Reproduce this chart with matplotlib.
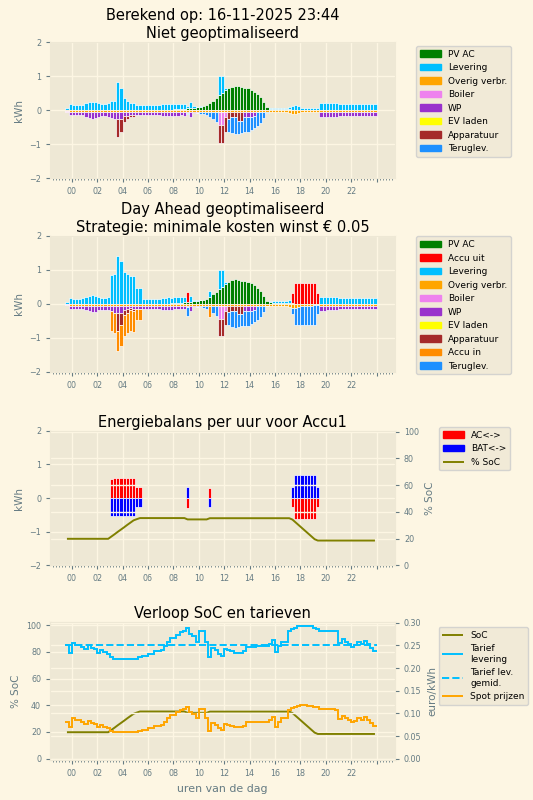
import matplotlib
matplotlib.use("Agg")
import matplotlib.pyplot as plt
import numpy as np
from matplotlib.lines import Line2D
from matplotlib.patches import Patch
from matplotlib.ticker import MultipleLocator

plt.style.use("Solarize_Light2")
plt.rcParams["font.family"] = ["DejaVu Sans"]

# 98 kwartieren: 23:30 en 23:45 van de vorige dag, daarna 00:00 .. 23:45
kwartieren = np.arange(98) * 0.25 - 0.5
uur_ticks = list(range(0, 25, 2))
uur_labels = ["00", "02", "04", "06", "08", "10", "12", "14", "16", "18", "20", "22", ""]

# ---- niet geoptimaliseerd (kWh per kwartier) ----
pv_ac = [0, 0,
         0, 0, 0, 0, 0, 0, 0, 0, 0, 0, 0, 0, 0, 0, 0, 0,  # 00-03
         0, 0, 0, 0, 0, 0, 0, 0, 0, 0, 0, 0, 0, 0, 0, 0.01,  # 04-07
         0.02, 0.02, 0.03, 0.04, 0.05, 0.06, 0.07, 0.08, 0.10, 0.12, 0.15, 0.20, 0.27, 0.35, 0.43, 0.50,  # 08-11
         0.58, 0.64, 0.69, 0.72, 0.70, 0.67, 0.66, 0.65, 0.60, 0.54, 0.47, 0.38, 0.24, 0.08, 0.04, 0.03,  # 12-15
         0.03, 0.03, 0.02, 0.02, 0.02, 0.01, 0, 0, 0, 0, 0, 0, 0, 0, 0, 0,  # 16-19
         0, 0, 0, 0, 0, 0, 0, 0, 0, 0, 0, 0, 0, 0, 0, 0]  # 20-23
levering = [0.06, 0.18,
            0.15, 0.15, 0.15, 0.16, 0.20, 0.23, 0.25, 0.24, 0.20, 0.18, 0.18, 0.20, 0.26, 0.27, 0.81, 0.65,
            0.34, 0.26, 0.20, 0.22, 0.15, 0.15, 0.15, 0.15, 0.15, 0.15, 0.15, 0.15, 0.18, 0.18, 0.19, 0.17,
            0.17, 0.17, 0.16, 0.15, 0.06, 0.17, 0.04, 0.02, 0.01, 0, 0, 0, 0, 0, 0.57, 0.50,
            0.06, 0, 0, 0, 0, 0, 0, 0, 0, 0, 0, 0, 0, 0, 0.03, 0.04,
            0.04, 0.04, 0.05, 0.05, 0.08, 0.11, 0.14, 0.11, 0.07, 0.07, 0.06, 0.06, 0.05, 0.05, 0.21, 0.21,
            0.20, 0.20, 0.20, 0.20, 0.17, 0.17, 0.17, 0.17, 0.17, 0.17, 0.17, 0.17, 0.17, 0.17, 0.17, 0.17]
overig = [-0.02, -0.07,
          -0.07, -0.07, -0.07, -0.07, -0.07, -0.07, -0.07, -0.07, -0.07, -0.07, -0.07, -0.07, -0.07, -0.07, -0.07, -0.07,
          -0.07, -0.07, -0.07, -0.07, -0.07, -0.07, -0.07, -0.07, -0.07, -0.07, -0.07, -0.07, -0.07, -0.07, -0.07, -0.07,
          -0.07, -0.07, -0.07, -0.07, -0.07, -0.07, -0.07, -0.07, -0.07, -0.07, -0.07, -0.07, -0.07, -0.07, -0.07, -0.07,
          -0.07, -0.07, -0.07, -0.07, -0.07, -0.07, -0.07, -0.07, -0.07, -0.07, -0.07, -0.07, -0.07, -0.07, -0.07, -0.07,
          -0.07, -0.07, -0.07, -0.07, -0.10, -0.12, -0.13, -0.10, -0.07, -0.07, -0.07, -0.07, -0.05, -0.05, -0.07, -0.07,
          -0.07, -0.07, -0.07, -0.07, -0.07, -0.07, -0.07, -0.07, -0.07, -0.07, -0.07, -0.07, -0.07, -0.07, -0.07, -0.07]
boiler = [-0.03, 0,
          0, 0, 0, 0, 0, 0, 0, 0, 0, 0, 0, 0, 0, 0, 0, 0,
          0, 0, 0, 0, 0, 0, 0, 0, 0, 0, 0, 0, 0, 0, 0, 0,
          0, 0, 0, 0, 0, 0, 0, 0, 0, 0, 0, 0, 0, 0, -0.37, -0.37,
          -0.15, 0, 0, 0, 0, 0, 0, 0, 0, 0, 0, 0, 0, 0, 0, 0,
          0, 0, 0, 0, 0, 0, 0, 0, 0, 0, 0, 0, 0, 0, 0, 0,
          0, 0, 0, 0, 0, 0, 0, 0, 0, 0, 0, 0, 0, 0, 0, 0]
wp = [0, -0.08,
      -0.08, -0.08, -0.08, -0.09, -0.13, -0.16, -0.18, -0.17, -0.13, -0.11, -0.11, -0.13, -0.16, -0.19, -0.19, -0.19,
      -0.12, -0.10, -0.07, -0.08, -0.08, -0.08, -0.08, -0.08, -0.08, -0.08, -0.08, -0.08, -0.11, -0.11, -0.12, -0.11,
      -0.10, -0.10, -0.09, -0.10, -0.02, -0.15, -0.03, -0.02, 0, 0, 0, 0, 0, 0, 0, 0,
      0, 0, 0, 0, 0, 0, -0.14, -0.14, -0.14, -0.12, 0, 0, 0, 0, 0, 0,
      0, 0, 0, 0, 0, 0, 0, 0, 0, 0, 0, 0, 0, 0, -0.14, -0.14,
      -0.13, -0.13, -0.13, -0.13, -0.10, -0.10, -0.10, -0.10, -0.10, -0.10, -0.10, -0.10, -0.10, -0.10, -0.10, -0.10]
ev_laden = [0] * 98
apparatuur = [0, 0,
              0, 0, 0, 0, 0, 0, 0, 0, 0, 0, 0, 0, 0, 0, -0.53, -0.38,
              -0.15, -0.09, -0.06, -0.07, 0, 0, 0, 0, 0, 0, 0, 0, 0, 0, 0, 0,
              0, 0, 0, 0, 0, 0, 0, 0, 0, 0, 0, 0, 0, 0, -0.52, -0.52,
              -0.42, -0.18, -0.15, -0.15, -0.24, -0.24, 0, 0, 0, 0, 0, 0, 0, 0, 0, 0,
              0, 0, 0, 0, 0, 0, 0, 0, 0, 0, 0, 0, 0, 0, 0, 0,
              0, 0, 0, 0, 0, 0, 0, 0, 0, 0, 0, 0, 0, 0, 0, 0]
teruglevering = [0, 0,
                 0, 0, 0, 0, 0, 0, 0, 0, 0, 0, 0, 0, 0, 0, 0, 0,
                 0, 0, 0, 0, 0, 0, 0, 0, 0, 0, 0, 0, 0, 0, 0, 0,
                 0, 0, 0, 0, -0.02, 0, 0, -0.01, -0.04, -0.05, -0.08, -0.13, -0.20, -0.28, 0, 0,
                 0, -0.39, -0.47, -0.50, -0.39, -0.36, -0.45, -0.44, -0.39, -0.35, -0.40, -0.31, -0.17, -0.01, 0, 0,
                 0, 0, 0, 0, 0, 0, 0, 0, 0, 0, 0, 0, 0, 0, 0, 0,
                 0, 0, 0, 0, 0, 0, 0, 0, 0, 0, 0, 0, 0, 0, 0, 0]

# ---- day ahead geoptimaliseerd ----
levering_opt = [0.06, 0.18,
                0.15, 0.15, 0.15, 0.16, 0.20, 0.23, 0.25, 0.24, 0.20, 0.18, 0.18, 0.20, 0.83, 0.87, 1.40, 1.25,
                0.93, 0.87, 0.80, 0.82, 0.47, 0.47, 0.15, 0.15, 0.15, 0.15, 0.15, 0.15, 0.18, 0.18, 0.19, 0.17,
                0.17, 0.17, 0.16, 0.15, 0, 0.17, 0.04, 0.02, 0.01, 0, 0, 0.18, 0, 0, 0.57, 0.50,
                0.06, 0, 0, 0, 0, 0, 0, 0, 0, 0, 0, 0, 0, 0, 0.03, 0.04,
                0.04, 0.04, 0.05, 0.05, 0.08, 0, 0, 0, 0, 0, 0, 0, 0, 0, 0.21, 0.21,
                0.20, 0.20, 0.20, 0.20, 0.17, 0.17, 0.17, 0.17, 0.17, 0.17, 0.17, 0.17, 0.17, 0.17, 0.17, 0.17]
accu_uit = [0, 0,
            0, 0, 0, 0, 0, 0, 0, 0, 0, 0, 0, 0, 0, 0, 0, 0,
            0, 0, 0, 0, 0, 0, 0, 0, 0, 0, 0, 0, 0, 0, 0, 0,
            0, 0, 0, 0, 0.30, 0, 0, 0, 0, 0, 0, 0, 0, 0, 0, 0,
            0, 0, 0, 0, 0, 0, 0, 0, 0, 0, 0, 0, 0, 0, 0, 0,
            0, 0, 0, 0, 0, 0.30, 0.62, 0.62, 0.62, 0.62, 0.62, 0.62, 0.62, 0.30, 0, 0,
            0, 0, 0, 0, 0, 0, 0, 0, 0, 0, 0, 0, 0, 0, 0, 0]
accu_in = [0, 0,
           0, 0, 0, 0, 0, 0, 0, 0, 0, 0, 0, 0, -0.57, -0.60, -0.60, -0.60,
           -0.60, -0.60, -0.60, -0.60, -0.32, -0.32, 0, 0, 0, 0, 0, 0, 0, 0, 0, 0,
           0, 0, 0, 0, 0, 0, 0, 0, 0, 0, 0, -0.31, 0, 0, 0, 0,
           0, 0, 0, 0, 0, 0, 0, 0, 0, 0, 0, 0, 0, 0, 0, 0,
           0, 0, 0, 0, 0, 0, 0, 0, 0, 0, 0, 0, 0, 0, 0, 0,
           0, 0, 0, 0, 0, 0, 0, 0, 0, 0, 0, 0, 0, 0, 0, 0]
teruglevering_opt = [0, 0,
                     0, 0, 0, 0, 0, 0, 0, 0, 0, 0, 0, 0, 0, 0, 0, 0,
                     0, 0, 0, 0, 0, 0, 0, 0, 0, 0, 0, 0, 0, 0, 0, 0,
                     0, 0, 0, 0, -0.26, 0, 0, -0.01, -0.04, -0.05, -0.08, 0, -0.20, -0.28, 0, 0,
                     0, -0.39, -0.47, -0.50, -0.39, -0.36, -0.45, -0.44, -0.39, -0.35, -0.40, -0.31, -0.17, -0.01, 0, 0,
                     0, 0, 0, 0, 0, -0.19, -0.49, -0.52, -0.55, -0.55, -0.55, -0.55, -0.57, -0.25, 0, 0,
                     0, 0, 0, 0, 0, 0, 0, 0, 0, 0, 0, 0, 0, 0, 0, 0]

# ---- accu1 ----
ac_accu = [0, 0,
           0, 0, 0, 0, 0, 0, 0, 0, 0, 0, 0, 0, 0.57, 0.60, 0.60, 0.60,
           0.60, 0.60, 0.60, 0.60, 0.32, 0.32, 0, 0, 0, 0, 0, 0, 0, 0, 0, 0,
           0, 0, 0, 0, -0.30, 0, 0, 0, 0, 0, 0, 0.30, 0, 0, 0, 0,
           0, 0, 0, 0, 0, 0, 0, 0, 0, 0, 0, 0, 0, 0, 0, 0,
           0, 0, 0, 0, 0, -0.28, -0.63, -0.63, -0.63, -0.63, -0.63, -0.63, -0.63, -0.28, 0, 0,
           0, 0, 0, 0, 0, 0, 0, 0, 0, 0, 0, 0, 0, 0, 0, 0]
bat_accu = [0, 0,
            0, 0, 0, 0, 0, 0, 0, 0, 0, 0, 0, 0, -0.52, -0.54, -0.54, -0.54,
            -0.54, -0.54, -0.54, -0.54, -0.26, -0.26, 0, 0, 0, 0, 0, 0, 0, 0, 0, 0,
            0, 0, 0, 0, 0.34, 0, 0, 0, 0, 0, 0, -0.26, 0, 0, 0, 0,
            0, 0, 0, 0, 0, 0, 0, 0, 0, 0, 0, 0, 0, 0, 0, 0,
            0, 0, 0, 0, 0, 0.34, 0.69, 0.69, 0.69, 0.69, 0.69, 0.69, 0.69, 0.34, 0, 0,
            0, 0, 0, 0, 0, 0, 0, 0, 0, 0, 0, 0, 0, 0, 0, 0]
soc = [19.8, 19.8,
       19.8, 19.8, 19.8, 19.8, 19.8, 19.8, 19.8, 19.8, 19.8, 19.8, 19.8, 19.8, 21.5, 23.2, 25.0, 26.7,
       28.4, 30.2, 31.9, 33.6, 34.5, 35.3, 35.3, 35.3, 35.3, 35.3, 35.3, 35.3, 35.3, 35.3, 35.3, 35.3,
       35.3, 35.3, 35.3, 35.3, 34.3, 34.3, 34.3, 34.3, 34.3, 34.3, 34.3, 35.2, 35.2, 35.2, 35.2, 35.2,
       35.2, 35.2, 35.2, 35.2, 35.2, 35.2, 35.2, 35.2, 35.2, 35.2, 35.2, 35.2, 35.2, 35.2, 35.2, 35.2,
       35.2, 35.2, 35.2, 35.2, 35.2, 34.2, 32.1, 30.0, 27.9, 25.8, 23.7, 21.6, 19.5, 18.5, 18.5, 18.5,
       18.5, 18.5, 18.5, 18.5, 18.5, 18.5, 18.5, 18.5, 18.5, 18.5, 18.5, 18.5, 18.5, 18.5, 18.5, 18.5]

# ---- tarieven (euro/kWh) ----
tarief_levering = [0.250, 0.234,
                   0.256, 0.251, 0.251, 0.247, 0.243, 0.250, 0.244, 0.243, 0.234, 0.241, 0.236, 0.231, 0.225, 0.221, 0.221, 0.221,
                   0.221, 0.221, 0.221, 0.220, 0.220, 0.225, 0.227, 0.227, 0.231, 0.231, 0.237, 0.237, 0.241, 0.249, 0.258, 0.267,
                   0.267, 0.274, 0.280, 0.282, 0.288, 0.276, 0.270, 0.258, 0.283, 0.282, 0.258, 0.225, 0.244, 0.241, 0.231, 0.227,
                   0.243, 0.241, 0.237, 0.234, 0.234, 0.234, 0.237, 0.247, 0.247, 0.247, 0.249, 0.249, 0.249, 0.249, 0.254, 0.263,
                   0.236, 0.249, 0.258, 0.258, 0.281, 0.286, 0.288, 0.292, 0.294, 0.294, 0.292, 0.292, 0.289, 0.287, 0.283, 0.283,
                   0.282, 0.282, 0.282, 0.281, 0.255, 0.265, 0.258, 0.254, 0.247, 0.252, 0.258, 0.254, 0.261, 0.254, 0.244, 0.237]
tarief_gemiddeld = 0.25
spot_prijs = [0.081, 0.071,
              0.089, 0.086, 0.086, 0.082, 0.077, 0.084, 0.078, 0.077, 0.069, 0.075, 0.071, 0.067, 0.062, 0.059, 0.059, 0.059,
              0.059, 0.059, 0.059, 0.058, 0.058, 0.062, 0.064, 0.064, 0.067, 0.067, 0.072, 0.072, 0.075, 0.082, 0.089, 0.097,
              0.097, 0.103, 0.108, 0.109, 0.114, 0.104, 0.099, 0.089, 0.110, 0.109, 0.089, 0.062, 0.078, 0.075, 0.067, 0.064,
              0.077, 0.075, 0.072, 0.069, 0.069, 0.069, 0.072, 0.080, 0.080, 0.080, 0.082, 0.082, 0.082, 0.082, 0.086, 0.093,
              0.071, 0.082, 0.089, 0.089, 0.108, 0.112, 0.114, 0.117, 0.119, 0.119, 0.117, 0.117, 0.115, 0.113, 0.110, 0.110,
              0.109, 0.109, 0.109, 0.108, 0.087, 0.095, 0.089, 0.086, 0.080, 0.084, 0.089, 0.086, 0.092, 0.086, 0.078, 0.072]

TXT = "#657b83"
C_PV, C_LEV, C_OV, C_BOIL = "green", "deepskyblue", "orange", "violet"
C_WP, C_EV, C_APP, C_TL = "darkorchid", "yellow", "brown", "dodgerblue"
C_UIT, C_IN = "red", "darkorange"


def opmaak(ax, ylabel):
    ax.set_xlim(-1.7, 25.45)
    ax.set_xticks(uur_ticks)
    ax.set_xticklabels(uur_labels)
    ax.xaxis.set_minor_locator(MultipleLocator(0.25))
    ax.tick_params(axis="x", which="minor", length=1.5, width=0.6, color=TXT)
    ax.tick_params(which="major", labelsize=5.8, colors=TXT, length=3)
    ax.grid(which="minor", visible=False)
    ax.set_axisbelow(True)
    ax.set_ylabel(ylabel, fontsize=7.5, color=TXT)


def stapel(ax, reeksen):
    pos = np.zeros(len(kwartieren))
    neg = np.zeros(len(kwartieren))
    for waarden, kleur in reeksen:
        w = np.array(waarden, dtype=float)
        onder = np.where(w >= 0, pos, neg)
        m = w != 0
        ax.bar(kwartieren[m], w[m], width=0.25, bottom=onder[m], align="edge",
               color=kleur, edgecolor="white", linewidth=0.5)
        pos += np.clip(w, 0, None)
        neg += np.clip(w, None, 0)
    ax.set_ylim(-2, 2)
    ax.set_yticks([-2, -1, 0, 1, 2])


def legenda(ax, handles, x, y):
    ax.legend(handles=handles, loc="upper left", bbox_to_anchor=(x, y),
              bbox_transform=fig.transFigure, borderaxespad=0, fontsize=6.5,
              handlelength=2.3, labelcolor="black")


fig = plt.figure(figsize=(5.33, 8), dpi=100)
L, W = 0.094, 0.647

# 1: niet geoptimaliseerd
ax1 = fig.add_axes([L, 0.7775, W, 0.170])
stapel(ax1, [(pv_ac, C_PV), (levering, C_LEV), (overig, C_OV), (boiler, C_BOIL),
             (wp, C_WP), (ev_laden, C_EV), (apparatuur, C_APP), (teruglevering, C_TL)])
opmaak(ax1, "kWh")
ax1.set_title("Berekend op: 16-11-2025 23:44\nNiet geoptimaliseerd", fontsize=10.5, color="black", pad=3)
legenda(ax1, [Patch(color=c, label=l) for c, l in [
    (C_PV, "PV AC"), (C_LEV, "Levering"), (C_OV, "Overig verbr."), (C_BOIL, "Boiler"),
    (C_WP, "WP"), (C_EV, "EV laden"), (C_APP, "Apparatuur"), (C_TL, "Teruglev.")]], 0.781, 0.9425)

# 2: day ahead geoptimaliseerd
ax2 = fig.add_axes([L, 0.5354, W, 0.170])
stapel(ax2, [(pv_ac, C_PV), (accu_uit, C_UIT), (levering_opt, C_LEV), (overig, C_OV),
             (boiler, C_BOIL), (wp, C_WP), (ev_laden, C_EV), (apparatuur, C_APP),
             (accu_in, C_IN), (teruglevering_opt, C_TL)])
opmaak(ax2, "kWh")
ax2.set_title("Day Ahead geoptimaliseerd\nStrategie: minimale kosten winst € 0.05", fontsize=10.5, color="black", pad=3)
legenda(ax2, [Patch(color=c, label=l) for c, l in [
    (C_PV, "PV AC"), (C_UIT, "Accu uit"), (C_LEV, "Levering"), (C_OV, "Overig verbr."),
    (C_BOIL, "Boiler"), (C_WP, "WP"), (C_EV, "EV laden"), (C_APP, "Apparatuur"),
    (C_IN, "Accu in"), (C_TL, "Teruglev.")]], 0.781, 0.7045)

# 3: energiebalans accu
ax3 = fig.add_axes([L, 0.2934, W, 0.168])
ac = np.array(ac_accu)
bat = np.array(bat_accu)
m = ac != 0
ax3.bar(kwartieren[m], ac[m], width=0.25, align="edge", color="red", edgecolor="white", linewidth=0.5)
m = bat != 0
ax3.bar(kwartieren[m], bat[m], width=0.25, align="edge", color="blue", edgecolor="white", linewidth=0.5)
ax3.set_ylim(-2, 2)
ax3.set_yticks([-2, -1, 0, 1, 2])
opmaak(ax3, "kWh")
ax3.set_title("Energiebalans per uur voor Accu1", fontsize=10.5, color="black", pad=3)
ax3b = ax3.twinx()
ax3b.plot(kwartieren + 0.125, soc, color="olive", linewidth=1.4)
ax3b.set_ylim(0, 100.5)
ax3b.set_yticks(range(0, 101, 20))
ax3b.tick_params(labelsize=5.8, colors=TXT, length=3)
ax3b.set_ylabel("% SoC", fontsize=7.5, color=TXT)
legenda(ax3, [Patch(color="red", label="AC<->"), Patch(color="blue", label="BAT<->"),
              Line2D([], [], color="olive", linewidth=1.4, label="% SoC")], 0.824, 0.466)

# 4: SoC en tarieven
ax4 = fig.add_axes([L, 0.050, W, 0.172])
ax4.plot(kwartieren + 0.125, soc, color="olive", linewidth=1.4)
ax4.set_ylim(-1, 102)
ax4.set_yticks(range(0, 101, 20))
opmaak(ax4, "% SoC")
ax4.set_xlabel("uren van de dag", fontsize=7.9, color=TXT)
ax4.set_title("Verloop SoC en tarieven", fontsize=10.5, color="black", pad=3)
ax4b = ax4.twinx()
randen = np.append(kwartieren, kwartieren[-1] + 0.25)
ax4b.stairs(tarief_levering, randen, baseline=None, color="deepskyblue", linewidth=1.4)
ax4b.plot(randen, np.full(len(randen), tarief_gemiddeld), color="deepskyblue", linewidth=1.4, linestyle="--")
ax4b.stairs(spot_prijs, randen, baseline=None, color="orange", linewidth=1.4)
ax4b.set_ylim(-0.003, 0.301)
ax4b.set_yticks(np.arange(0, 0.31, 0.05))
ax4b.yaxis.set_major_formatter(matplotlib.ticker.FormatStrFormatter("%.2f"))
ax4b.tick_params(labelsize=5.8, colors=TXT, length=3)
ax4b.set_ylabel("euro/kWh", fontsize=7.5, color=TXT)
legenda(ax4, [Line2D([], [], color="olive", linewidth=1.4, label="SoC"),
              Line2D([], [], color="deepskyblue", linewidth=1.4, label="Tarief\nlevering"),
              Line2D([], [], color="deepskyblue", linewidth=1.4, linestyle="--", label="Tarief lev.\ngemid."),
              Line2D([], [], color="orange", linewidth=1.4, label="Spot prijzen")], 0.823, 0.216)

fig.savefig("out.png", dpi=100)
